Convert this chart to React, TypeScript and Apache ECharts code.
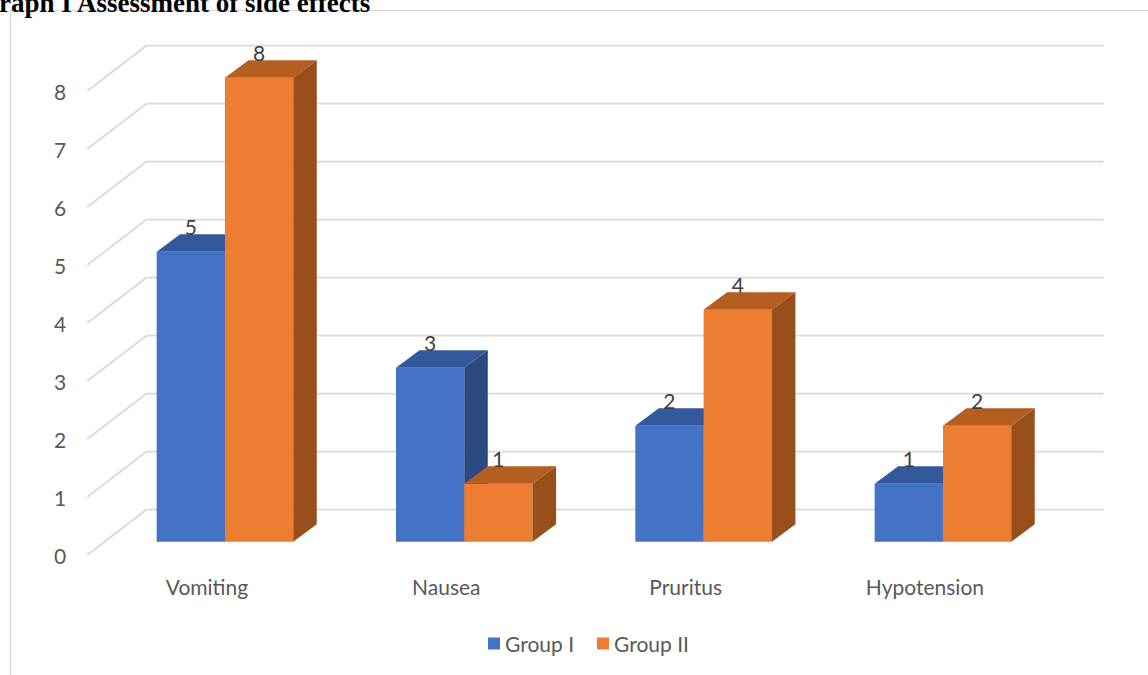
import React, { useEffect, useRef } from "react";
import * as echarts from "echarts";

const categories = ["Vomiting", "Nausea", "Pruritus", "Hypotension"];
const groupI = [5, 3, 2, 1];
const groupII = [8, 1, 4, 2];
const yTicks = [0, 1, 2, 3, 4, 5, 6, 7, 8];
const seriesNames = ["Group I", "Group II"];

const TITLE = "Graph I Assessment of side effects";

// layout / style constants
const GRID = { left: 105.3, top: 77.7, width: 957.3, height: 464 };
const FRONT = [-18, 13.3];
const BACK = [41, -32];
const DEPTH = [23.5, -17.5];
const BAR_RATIO = 0.2854;
const FONT = "Lato";
const TEXT_COLOR = "#595959";
const GRID_COLOR = "#d9d9d9";

const PALETTE = [
  { front: "#4472C4", top: "#33589C", side: "#2B4A80" },
  { front: "#ED7D31", top: "#B55E22", side: "#984F1C" },
];

function barRenderer(pos: number) {
  const c = PALETTE[pos];
  return (params: any, api: any) => {
    const cat = api.value(0);
    const val = api.value(1);
    const base = api.coord([cat, 0]);
    const top = api.coord([cat, val]);
    const band = api.size([1, 0])[0];
    const w = band * BAR_RATIO;
    const x0 = base[0] - w + pos * w;
    const x1 = x0 + w;
    const yT = top[1];
    const yB = base[1];
    const [dx, dy] = DEPTH;
    return {
      type: "group",
      children: [
        { type: "rect", shape: { x: x0, y: yT, width: w, height: yB - yT }, style: { fill: c.front } },
        {
          type: "polygon",
          shape: { points: [[x0, yT], [x0 + dx, yT + dy], [x1 + dx, yT + dy], [x1, yT]] },
          style: { fill: c.top },
        },
        {
          type: "polygon",
          shape: { points: [[x1, yT], [x1 + dx, yT + dy], [x1 + dx, yB + dy], [x1, yB]] },
          style: { fill: c.side },
        },
        {
          type: "text",
          style: {
            text: String(val),
            x: (x0 + x1) / 2,
            y: yT + dy + 3,
            align: "center",
            verticalAlign: "bottom",
            font: `21px ${FONT}`,
            fill: "#404040",
          },
        },
      ],
    };
  };
}

function gridRenderer(params: any, api: any) {
  const v = api.value(1);
  const p = api.coord([0, v]);
  const cs = params.coordSys;
  const l = cs.x;
  const r = cs.x + cs.width;
  const y = p[1];
  return {
    type: "polyline",
    shape: {
      points: [
        [l + FRONT[0], y + FRONT[1]],
        [l + BACK[0], y + BACK[1]],
        [r + BACK[0], y + BACK[1]],
      ],
    },
    style: { stroke: GRID_COLOR, lineWidth: 1.8, fill: "none" },
  };
}

export default function App() {
  const ref = useRef<HTMLDivElement>(null);
  useEffect(() => {
    if (!ref.current) return;
    const chart = echarts.init(ref.current, undefined, { renderer: "svg" });
    const option: any = {
      animation: false,
      backgroundColor: "#ffffff",
      textStyle: { fontFamily: FONT },
      grid: [
        { ...GRID },
        { left: GRID.left + FRONT[0], top: GRID.top + FRONT[1], width: GRID.width, height: GRID.height },
      ],
      xAxis: [
        { type: "category", data: categories, gridIndex: 0, show: false },
        {
          type: "category",
          data: categories,
          gridIndex: 1,
          axisLine: { show: false },
          axisTick: { show: false },
          axisLabel: { color: TEXT_COLOR, fontSize: 21, fontFamily: FONT, margin: 21 },
        },
      ],
      yAxis: [
        { type: "value", min: 0, max: 8, interval: 1, gridIndex: 0, show: false },
        {
          type: "value",
          min: 0,
          max: 8,
          interval: 1,
          gridIndex: 1,
          axisLine: { show: false },
          axisTick: { show: false },
          splitLine: { show: false },
          axisLabel: { color: TEXT_COLOR, fontSize: 21, fontFamily: FONT, margin: 21 },
        },
      ],
      legend: {
        data: seriesNames,
        left: 483,
        top: 628,
        icon: "rect",
        itemWidth: 12,
        itemHeight: 12,
        itemGap: 23,
        textStyle: { color: TEXT_COLOR, fontSize: 21, fontFamily: FONT },
      },
      graphic: [
        {
          type: "rect",
          shape: { x: 10.5, y: 10.5, width: 1300, height: 800 },
          style: { fill: "none", stroke: GRID_COLOR, lineWidth: 1.2 },
          z: 0,
        },
        {
          type: "text",
          style: {
            text: TITLE,
            x: -22,
            y: 3,
            verticalAlign: "middle",
            font: 'bold 27px "Liberation Serif"',
            fill: "#000000",
          },
          z: 10,
        },
      ],
      series: [
        {
          type: "custom",
          name: "grid",
          xAxisIndex: 0,
          yAxisIndex: 0,
          renderItem: gridRenderer,
          data: yTicks.map((v) => [0, v]),
          encode: { x: 0, y: 1 },
          silent: true,
          z: 1,
        },
        ...[groupI, groupII].map((vals, i) => ({
          type: "custom",
          name: seriesNames[i],
          xAxisIndex: 0,
          yAxisIndex: 0,
          itemStyle: { color: PALETTE[i].front },
          renderItem: barRenderer(i),
          data: vals.map((v, j) => [j, v]),
          encode: { x: 0, y: 1 },
          z: 2 + i,
        })),
      ],
    };
    chart.setOption(option);
    return () => chart.dispose();
  }, []);
  return (
    <div
      ref={ref}
      style={{ position: "fixed", left: 0, top: 0, width: 1148, height: 675 }}
    />
  );
}
